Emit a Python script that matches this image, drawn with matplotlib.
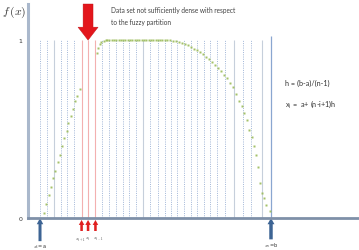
import matplotlib.pyplot as plt

# partition nodes x_1 = a (0) ... x_n = b (1)
grid_x = [0.0, 0.030, 0.061, 0.091, 0.119, 0.147, 0.180, 0.208, 0.240, 0.268,
          0.299, 0.329, 0.359, 0.387, 0.416, 0.446, 0.478, 0.509, 0.539, 0.567,
          0.595, 0.623, 0.652, 0.680, 0.708, 0.736, 0.768, 0.801, 0.840, 0.879,
          0.913, 0.959, 1.0]
gray_idx = [2, 15, 28, 31]
red_idx = [6, 7, 8]

# sampled membership curve f(x)
rise_x = [0.019, 0.027, 0.038, 0.046, 0.055, 0.066, 0.077, 0.087, 0.097, 0.105,
          0.116, 0.123, 0.132, 0.142, 0.152, 0.161, 0.173]
rise_y = [0.026, 0.079, 0.129, 0.172, 0.225, 0.266, 0.315, 0.356, 0.404, 0.449,
          0.490, 0.534, 0.573, 0.612, 0.657, 0.688, 0.725]

top_x = [0.245, 0.252, 0.260, 0.266, 0.275, 0.284, 0.292,
         0.30, 0.31, 0.32, 0.33, 0.34, 0.35, 0.36, 0.37, 0.38, 0.39, 0.40,
         0.41, 0.42, 0.43, 0.44, 0.45, 0.46, 0.47, 0.48, 0.49, 0.50, 0.51,
         0.52, 0.53, 0.54, 0.55, 0.563]
top_y = [0.927, 0.955, 0.975, 0.986, 0.994, 1.0, 1.0,
         1.0, 1.0, 1.0, 1.0, 1.0, 1.0, 1.0, 1.0, 1.0, 1.0, 1.0,
         1.0, 1.0, 1.0, 1.0, 1.0, 1.0, 1.0, 1.0, 1.0, 1.0, 1.0,
         1.0, 1.0, 1.0, 1.0, 1.0]

fall_x = [0.576, 0.589, 0.602, 0.615, 0.628, 0.641, 0.654, 0.667, 0.680, 0.693,
          0.706, 0.719, 0.732, 0.745, 0.758, 0.771, 0.784, 0.797, 0.810, 0.823,
          0.835, 0.848, 0.861, 0.873, 0.883, 0.895, 0.905, 0.917, 0.926, 0.935,
          0.944, 0.954, 0.960, 0.971, 0.979, 0.996]
fall_y = [0.994, 0.994, 0.989, 0.983, 0.978, 0.969, 0.961, 0.952, 0.941, 0.933,
          0.921, 0.907, 0.893, 0.879, 0.862, 0.843, 0.826, 0.806, 0.787, 0.761,
          0.736, 0.697, 0.657, 0.629, 0.590, 0.551, 0.496, 0.453, 0.403, 0.354,
          0.285, 0.197, 0.139, 0.112, 0.073, 0.038]

node_labels = ['$x_{i+1}$', '$x_i$', '$x_{i-1}$']
label_shift = [-0.008, 0.0, 0.01]

plt.rcParams['mathtext.fontset'] = 'cm'

fig = plt.figure(figsize=(3.59, 2.51), dpi=100)
ax = fig.add_axes([28 / 359, 32 / 251, 331 / 359, 214 / 251])
ax.set_xlim(-0.052, 1.381)
ax.set_ylim(0, 1.202)

for s in ['top', 'right']:
    ax.spines[s].set_visible(False)
ax.spines['left'].set_color('#aab8cc')
ax.spines['left'].set_linewidth(2.2)
ax.spines['bottom'].set_color('#7f90a8')
ax.spines['bottom'].set_linewidth(2.0)
ax.set_xticks([])
ax.set_yticks([0, 1])
ax.set_yticklabels(['0', '1'], fontsize=4.5, color='#333333')
ax.tick_params(axis='y', length=0, pad=4)

# partition lines
for i, gx in enumerate(grid_x):
    if i in red_idx:
        ax.vlines(gx, 0, 1, color='#f3b0b0', lw=0.8)
    elif i == len(grid_x) - 1:
        ax.vlines(gx, 0, 1.022, color='#8aa6d0', lw=0.9)
    elif i in gray_idx:
        ax.vlines(gx, 0, 1, color='#c6cfdb', lw=0.8)
    else:
        ax.vlines(gx, 0, 1, color='#6f8fc2', lw=0.7, linestyles=(0, (1, 1.3)), alpha=0.65)

# curve
for cx, cy in [(rise_x, rise_y), (top_x, top_y), (fall_x, fall_y)]:
    ax.plot(cx, cy, 's', ms=1.9, color='#9bbb59', mec='none', alpha=0.9, zorder=3)

# big red arrow
rx = grid_x[red_idx[1]]
ax.arrow(rx, 1.202, 0, -0.13, width=0.043, head_width=0.087, head_length=0.073,
         length_includes_head=False, color='#e3161c', ec='#c01015', lw=0.3,
         clip_on=False, zorder=5)

# small red arrows under the sparse nodes
for k, i in enumerate(red_idx):
    ax.arrow(grid_x[i], -0.073, 0, 0.034, width=0.011, head_width=0.024,
             head_length=0.028, color='#e02020', lw=0, clip_on=False)
    ax.text(grid_x[i] + label_shift[k], -0.095, node_labels[k], fontsize=3.2,
            ha='center', va='top', color='#333333', clip_on=False)

# blue arrows for a and b
ax.arrow(grid_x[0], -0.13, 0, 0.095, width=0.013, head_width=0.028, head_length=0.035,
         color='#3d6494', lw=0, clip_on=False)
ax.text(grid_x[0], -0.138, '$x_1$=a', fontsize=3.6, ha='center', va='top',
        color='#333333', clip_on=False)
ax.arrow(grid_x[-1], -0.12, 0, 0.085, width=0.015, head_width=0.03, head_length=0.035,
         color='#3d6494', lw=0, clip_on=False)
ax.text(grid_x[-1], -0.125, '$x_n$=b', fontsize=3.6, ha='center', va='top',
        color='#333333', clip_on=False)

# texts
fig.text(2 / 359, 1 - 12 / 251, '$f\\,(x)$', fontsize=8.5, color='#333333', va='center')
fig.text(111 / 359, 1 - 11 / 251, 'Data set not sufficiently dense with respect',
         family='Lato', fontsize=4.7, color='#404040', va='center')
fig.text(111 / 359, 1 - 22 / 251, 'to the fuzzy partition',
         family='Lato', fontsize=4.7, color='#404040', va='center')
fig.text(285 / 359, 1 - 83 / 251, 'h = (b-a)/(n-1)',
         family='Lato', fontsize=5.2, color='#333333', va='center')
fig.text(285 / 359, 1 - 104 / 251, 'x$_{\\mathregular{i}}$ =  a+ (n-i+1)h',
         family='Lato', fontsize=5.2, color='#333333', va='center')

fig.savefig('out.png', dpi=100)
